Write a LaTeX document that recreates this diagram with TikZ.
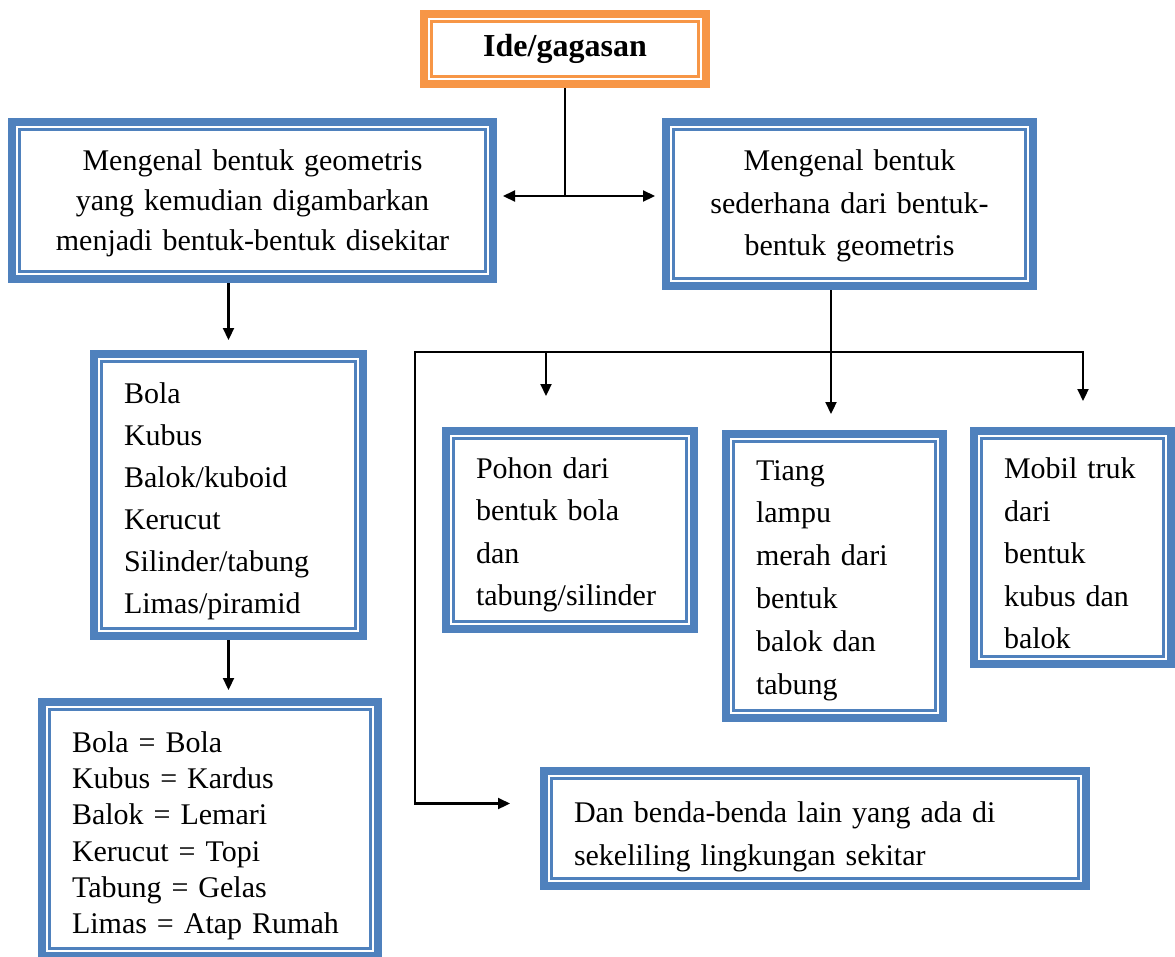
\documentclass[tikz,border=0pt]{standalone}
\usepackage{fontspec}
\setmainfont{Liberation Serif}
\usetikzlibrary{arrows.meta, calc}
\definecolor{kotakbiru}{HTML}{4F81BD}
\definecolor{kotakjingga}{HTML}{F79646}

\begin{document}
\begin{tikzpicture}[
    x=1pt, y=-1pt,
    >={Triangle[length=12pt, width=11pt]},
    kotak/.style={rectangle, draw=#1, line width=8pt, outer sep=4pt, inner xsep=30pt, inner ysep=0pt,
        fill=white, align=left, font=\fontsize{30}{42}\selectfont,
        path picture={\draw[#1, line width=2.5pt]
            ([shift={(7.5pt,7.5pt)}]path picture bounding box.south west) rectangle
            ([shift={(-7.5pt,-7.5pt)}]path picture bounding box.north east);}},
    kotak/.default=kotakbiru,
    turun/.style={execute at begin node={\rule{0pt}{#1}}},
    garis/.style={line width=2.2pt},
    panah/.style={garis, ->}
]
\useasboundingbox (0,0) rectangle (1175,956);

\node[kotak=kotakjingga, minimum height=70pt, text width=222pt, align=center,
    font=\fontsize{32}{36}\selectfont\bfseries] (ide) at (565,49) {Ide/gagasan};

\node[kotak, minimum height=157pt, inner xsep=20pt, text width=441pt, align=center, turun=26.5pt,
    font=\fontsize{30}{40}\selectfont] (geo) at (252.5,200.5)
    {Mengenal bentuk geometris\\ yang kemudian digambarkan\\ menjadi bentuk-bentuk disekitar};
\node[kotak, minimum height=164pt, inner xsep=20pt, text width=327pt, align=center, turun=24.5pt,
    font=\fontsize{30}{42.5}\selectfont] (bentuk) at (849.5,204)
    {Mengenal bentuk\\ sederhana dari bentuk-\\ bentuk geometris};

\node[kotak, minimum height=282pt, text width=209pt, turun=32.5pt] (bola) at (228.5,495)
    {Bola\\ Kubus\\ Balok/kuboid\\ Kerucut\\ Silinder/tabung\\ Limas/piramid};
\node[kotak, minimum height=254pt, text width=276pt, turun=34.5pt, font=\fontsize{30}{36.2}\selectfont] (contoh) at (210,829)
    {Bola = Bola\\ Kubus = Kardus\\ Balok = Lemari\\ Kerucut = Topi\\ Tabung = Gelas\\ Limas = Atap Rumah};

\node[kotak, minimum height=198pt, text width=188pt, turun=30.5pt, font=\fontsize{30}{42.5}\selectfont] (pohon) at (570,530)
    {Pohon dari\\ bentuk bola\\ dan\\ tabung/silinder};
\node[kotak, minimum height=284pt, text width=157pt, turun=28.5pt, font=\fontsize{30}{42.8}\selectfont] (tiang) at (834.5,576)
    {Tiang\\ lampu\\ merah dari\\ bentuk\\ balok dan\\ tabung};
\node[kotak, minimum height=233pt, text width=137pt, turun=32.5pt, font=\fontsize{30}{42.5}\selectfont] (mobil) at (1072.5,547.5)
    {Mobil truk\\ dari\\ bentuk\\ kubus dan\\ balok};
\node[kotak, minimum height=115pt, text width=482pt, turun=36.5pt, font=\fontsize{30}{43}\selectfont] (dan) at (815,828.5)
    {Dan benda-benda lain yang ada di\\ sekeliling lingkungan sekitar};

\coordinate (pusat) at (565,196);
\coordinate (cabangkiri) at (415,352);
\coordinate (cabangkanan) at (1083,352);
\coordinate (ujungpohon) at (546,396);
\coordinate (ujungmobil) at (1083,401);
\coordinate (ujungtiang) at ($(tiang.north)+(-3.5,-16)$);
\coordinate (ujungdan) at ($(dan.west)+(-30,-25)$);

\draw[garis] (ide) -- (pusat);
\draw[garis, <->] ($(geo.east |- pusat)+(6,0)$) -- ($(bentuk.west |- pusat)+(-7,0)$);
\draw[panah] (bola.north |- geo.south) -- ($(bola.north)+(0,-10)$);
\draw[panah] (bola.south) -- ($(bola.south |- contoh.north)+(0,-8)$);
\draw[panah] (ujungtiang |- bentuk.south) -- (ujungtiang);
\draw[garis, <->] (ujungdan) -| (cabangkiri) -- (cabangkanan) -- (ujungmobil);
\draw[panah] (ujungpohon |- cabangkiri) -- (ujungpohon);
\end{tikzpicture}
\end{document}
